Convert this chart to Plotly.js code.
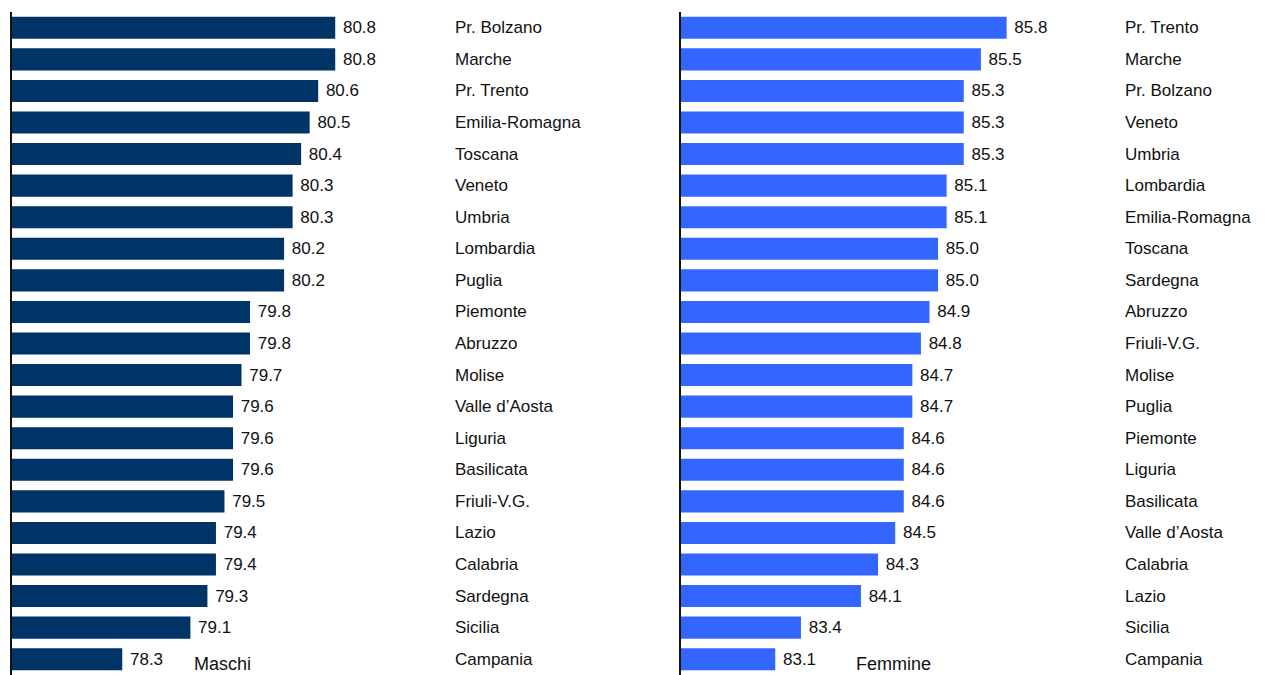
<!DOCTYPE html>
<html>
<head>
<meta charset="utf-8">
<script src="https://cdn.plot.ly/plotly-3.0.1.min.js"></script>
<style>html,body{margin:0;padding:0;background:#fff;}#chart{width:1265px;height:675px;}</style>
</head>
<body>
<div id="chart"></div>
<script>
const regioniMaschi = ["Pr. Bolzano","Marche","Pr. Trento","Emilia-Romagna","Toscana","Veneto","Umbria","Lombardia","Puglia","Piemonte","Abruzzo","Molise","Valle d’Aosta","Liguria","Basilicata","Friuli-V.G.","Lazio","Calabria","Sardegna","Sicilia","Campania"];
const valoriMaschi = [80.8,80.8,80.6,80.5,80.4,80.3,80.3,80.2,80.2,79.8,79.8,79.7,79.6,79.6,79.6,79.5,79.4,79.4,79.3,79.1,78.3];
const regioniFemmine = ["Pr. Trento","Marche","Pr. Bolzano","Veneto","Umbria","Lombardia","Emilia-Romagna","Toscana","Sardegna","Abruzzo","Friuli-V.G.","Molise","Puglia","Piemonte","Liguria","Basilicata","Valle d’Aosta","Calabria","Lazio","Sicilia","Campania"];
const valoriFemmine = [85.8,85.5,85.3,85.3,85.3,85.1,85.1,85.0,85.0,84.9,84.8,84.7,84.7,84.6,84.6,84.6,84.5,84.3,84.1,83.4,83.1];
const titoli = ["Maschi","Femmine"];

const W = 1265;
const FONT = "Liberation Sans, Arial, sans-serif";

const traces = [
  {type:"bar", orientation:"h", x:valoriMaschi, y:regioniMaschi, xaxis:"x", yaxis:"y",
   marker:{color:"#003366"}, width:0.7,
   text:valoriMaschi.map(v=>" "+v.toFixed(1)), textposition:"outside", constraintext:"none",
   cliponaxis:false, textfont:{family:FONT,size:17,color:"#111"}, hoverinfo:"x+y"},
  {type:"bar", orientation:"h", x:valoriFemmine, y:regioniFemmine, xaxis:"x2", yaxis:"y2",
   marker:{color:"#3366FF"}, width:0.7,
   text:valoriFemmine.map(v=>" "+v.toFixed(1)), textposition:"outside", constraintext:"none",
   cliponaxis:false, textfont:{family:FONT,size:17,color:"#111"}, hoverinfo:"x+y"}
];

const annotations = [];
regioniMaschi.forEach(r=>annotations.push({xref:"paper",yref:"y",x:453/W,y:r,text:r,showarrow:false,xanchor:"left",yanchor:"middle",font:{family:FONT,size:17,color:"#111"}}));
regioniFemmine.forEach(r=>annotations.push({xref:"paper",yref:"y2",x:1123/W,y:r,text:r,showarrow:false,xanchor:"left",yanchor:"middle",font:{family:FONT,size:17,color:"#111"}}));
annotations.push({xref:"paper",yref:"paper",x:192/W,y:0.017,text:titoli[0],showarrow:false,xanchor:"left",yanchor:"middle",font:{family:FONT,size:18,color:"#111"}});
annotations.push({xref:"paper",yref:"paper",x:854/W,y:0.017,text:titoli[1],showarrow:false,xanchor:"left",yanchor:"middle",font:{family:FONT,size:18,color:"#111"}});

const yBase = {autorange:"reversed", showticklabels:false, ticks:"", showgrid:false, zeroline:false,
  showline:true, linecolor:"#111", linewidth:2, fixedrange:true};
const layout = {
  width:1265, height:675,
  margin:{l:0,r:0,t:12,b:0},
  paper_bgcolor:"#fff", plot_bgcolor:"rgba(0,0,0,0)",
  showlegend:false, bargap:0.3,
  xaxis:{domain:[11.5/W,440/W], range:[77,82.03], visible:false, fixedrange:true},
  xaxis2:{domain:[681/W,1112/W], range:[82,87.03], visible:false, fixedrange:true},
  yaxis:Object.assign({}, yBase, {anchor:"x"}),
  yaxis2:Object.assign({}, yBase, {anchor:"x2"}),
  annotations:annotations
};
Plotly.newPlot("chart", traces, layout, {displayModeBar:false, staticPlot:true});
</script>
</body>
</html>
